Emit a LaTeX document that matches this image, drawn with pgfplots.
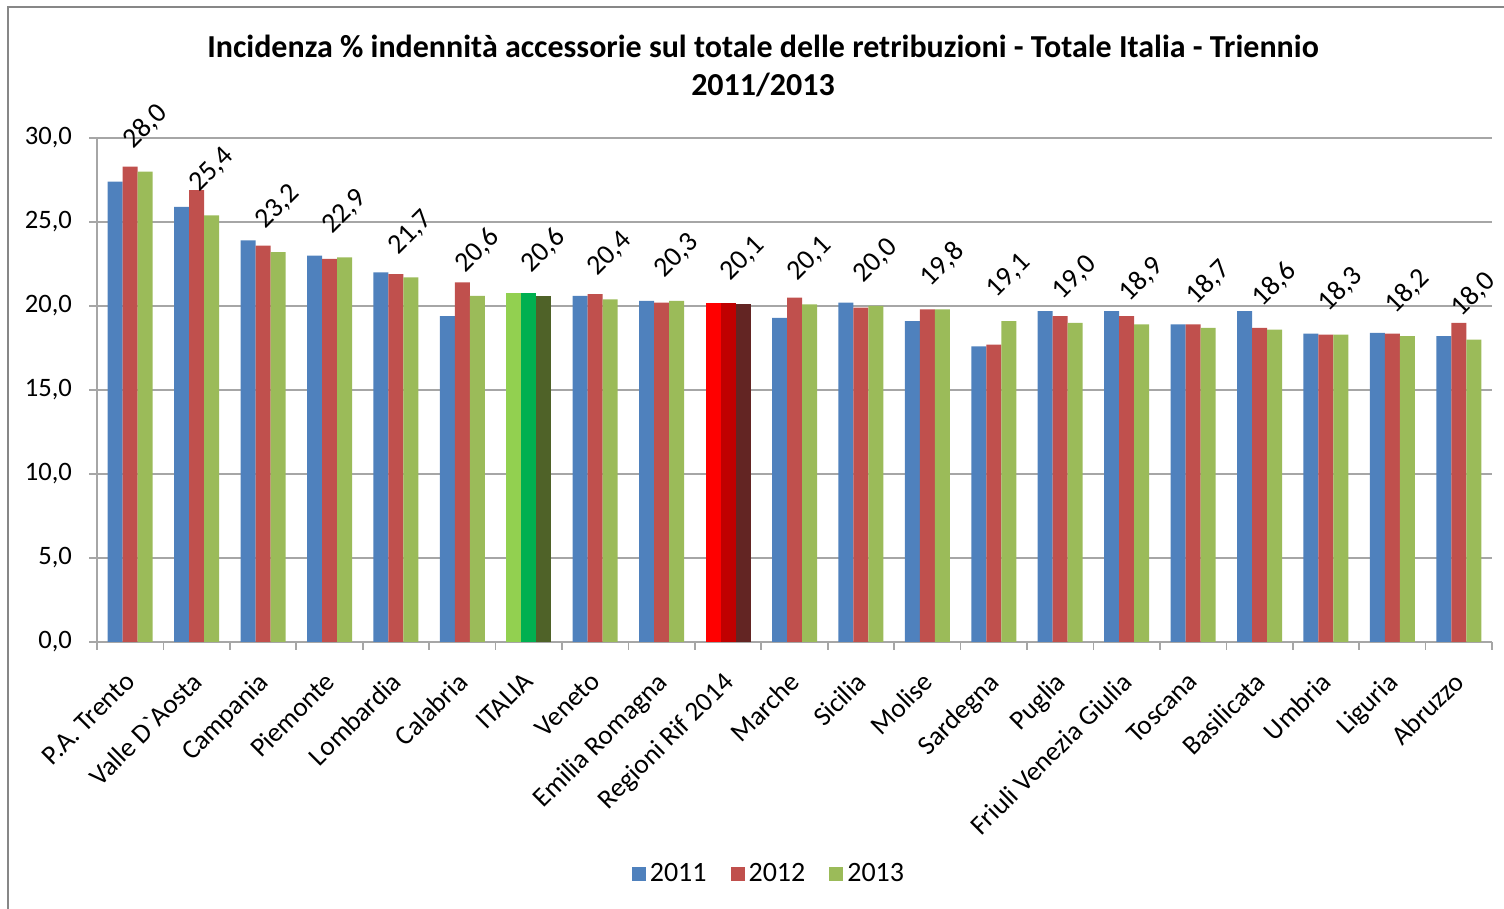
\documentclass[border=0pt]{standalone}
\usepackage{fontspec}
\setmainfont{Carlito}
\usepackage{pgfplots}
\pgfplotsset{compat=1.18}
\definecolor{cA}{HTML}{4F81BD}
\definecolor{cB}{HTML}{C0504D}
\definecolor{cC}{HTML}{9BBB59}
\definecolor{iA}{HTML}{92D050}
\definecolor{iB}{HTML}{00B050}
\definecolor{iC}{HTML}{4F6228}
\definecolor{rA}{HTML}{FF0000}
\definecolor{rB}{HTML}{C00000}
\definecolor{rC}{HTML}{632523}
\definecolor{framegray}{HTML}{878787}
\definecolor{gridgray}{HTML}{A6A6A6}
\begin{document}
\begin{tikzpicture}
\useasboundingbox (0,0) rectangle (752pt,454.5pt);
\draw[framegray, line width=1.2pt] (4pt,-30pt) rectangle (790pt,451pt);
\node[font=\fontsize{16}{19}\selectfont\bfseries, align=center] at (381.5pt,421.5pt)
  {Incidenza \% indennità accessorie sul totale delle retribuzioni - Totale Italia - Triennio\\2011/2013};
\begin{axis}[
  at={(48.5pt,133.5pt)}, anchor=south west,
  scale only axis, width=697.5pt, height=252pt,
  xmin=-0.5, xmax=20.5, ymin=0, ymax=30,
  ytick={0,5,...,30},
  xtick={0,...,20},
  xticklabels={P.A. Trento,Valle D\textasciigrave Aosta,Campania,Piemonte,Lombardia,Calabria,ITALIA,Veneto,Emilia Romagna,Regioni Rif 2014,Marche,Sicilia,Molise,Sardegna,Puglia,Friuli Venezia Giulia,Toscana,Basilicata,Umbria,Liguria,Abruzzo},
  x tick label style={rotate=45, anchor=north east, font=\fontsize{13.6}{15}\selectfont, yshift=-1.5pt, xshift=-6pt},
  y tick label style={font=\fontsize{13.3}{15}\selectfont, xshift=-5pt},
  xtick style={draw=none},
  extra x ticks={-0.5,0.5,...,20.5},
  extra x tick labels={},
  extra x tick style={grid=none, xtick style={draw=gridgray, line width=0.8pt}},
  tick align=outside,
  major tick length=4pt,
  ytick style={draw=gridgray, line width=0.8pt},
  axis lines*=left,
  axis line style={draw=gridgray, line width=0.8pt},
  ymajorgrids, grid style={gridgray, line width=0.8pt},
  /pgf/number format/fixed,
  /pgf/number format/fixed zerofill,
  /pgf/number format/precision=1,
  /pgf/number format/use comma,
  /pgf/number format/assume math mode=true,
  ybar, bar width=7.5pt,
  legend style={at={(0.4824,-0.4603)}, anchor=center, draw=none, legend columns=3,
    font=\fontsize{14}{16}\selectfont, /tikz/every even column/.append style={column sep=10pt}},
  legend image code/.code={\fill[#1] (0pt,-3.5pt) rectangle (7pt,3.5pt);},
  every node near coord/.append style={anchor=center, yshift=22.5pt, rotate=45, font=\fontsize{14}{16}\selectfont, text=black},
]
\addplot[fill=cA, draw=none, bar shift=-7.5pt] coordinates {
(0,27.4) (1,25.9) (2,23.9) (3,23.0) (4,22.0) (5,19.4) (7,20.6) (8,20.3) (10,19.3) (11,20.2) (12,19.1) (13,17.6) (14,19.7) (15,19.7) (16,18.9) (17,19.7) (18,18.35) (19,18.4) (20,18.2)};
\addplot[fill=cB, draw=none, bar shift=0pt] coordinates {
(0,28.3) (1,26.9) (2,23.6) (3,22.8) (4,21.9) (5,21.4) (7,20.7) (8,20.2) (10,20.5) (11,19.9) (12,19.8) (13,17.7) (14,19.4) (15,19.4) (16,18.9) (17,18.7) (18,18.3) (19,18.35) (20,19.0)};
\addplot[fill=cC, draw=none, bar shift=7.5pt, nodes near coords] coordinates {
(0,28.0) (1,25.4) (2,23.2) (3,22.9) (4,21.7) (5,20.6) (7,20.4) (8,20.3) (10,20.1) (11,20.0) (12,19.8) (13,19.1) (14,19.0) (15,18.9) (16,18.7) (17,18.6) (18,18.3) (19,18.2) (20,18.0)};
\addplot[fill=iA, draw=none, bar shift=-7.5pt, forget plot] coordinates {(6,20.8)};
\addplot[fill=iB, draw=none, bar shift=0pt, forget plot] coordinates {(6,20.8)};
\addplot[fill=iC, draw=none, bar shift=7.5pt, forget plot, nodes near coords] coordinates {(6,20.6)};
\addplot[fill=rA, draw=none, bar shift=-7.5pt, forget plot] coordinates {(9,20.2)};
\addplot[fill=rB, draw=none, bar shift=0pt, forget plot] coordinates {(9,20.2)};
\addplot[fill=rC, draw=none, bar shift=7.5pt, forget plot, nodes near coords] coordinates {(9,20.1)};
\legend{2011,2012,2013}
\end{axis}
\end{tikzpicture}
\end{document}
